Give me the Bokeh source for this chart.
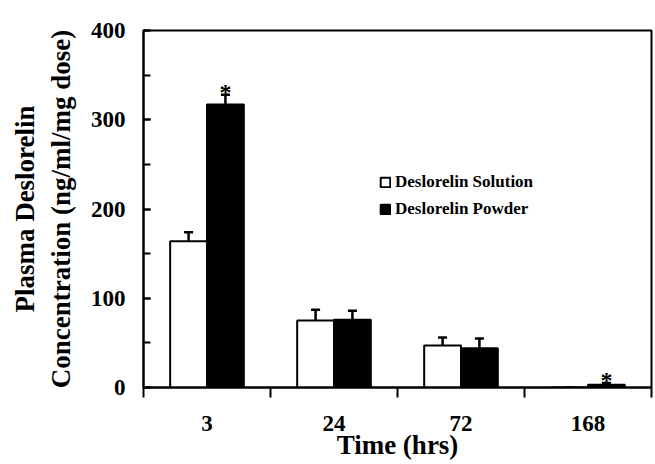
from bokeh.plotting import figure
from bokeh.models import (FixedTicker, SingleIntervalTicker, Whisker, ColumnDataSource,
                          Legend, LegendItem, TeeHead, Range1d)
from bokeh.core.properties import value
from bokeh.embed import file_html
from bokeh.resources import INLINE

times = ["3", "24", "72", "168"]
solution = [164, 75, 47, 0]
solution_err = [10, 12, 9, 0]
powder = [317, 76, 44, 3]
powder_err = [11, 10, 11, 2]
significant = [True, False, False, True]

FONT = "Liberation Serif"

p = figure(width=655, height=464, output_backend="svg", toolbar_location=None,
           x_range=Range1d(0, len(times)), y_range=Range1d(0, 400),
           min_border_left=143, min_border_right=4, min_border_top=30, min_border_bottom=77)
p.grid.visible = False
p.outline_line_color = "black"
p.outline_line_width = 2
p.background_fill_color = "white"
p.border_fill_color = "white"

bw = 0.29
idx = list(range(len(times)))
xs_sol = [i + 0.5 - bw / 2 for i in idx]
xs_pow = [i + 0.5 + bw / 2 for i in idx]

src_s = ColumnDataSource(dict(x=xs_sol, top=solution, up=[a + b for a, b in zip(solution, solution_err)]))
src_p = ColumnDataSource(dict(x=xs_pow, top=powder, up=[a + b for a, b in zip(powder, powder_err)]))

r_s = p.vbar(x="x", top="top", width=bw, source=src_s, fill_color="white", line_color="black", line_width=2)
r_p = p.vbar(x="x", top="top", width=bw, source=src_p, fill_color="black", line_color="black", line_width=2)

for src in (src_s, src_p):
    w = Whisker(base="x", lower="top", upper="up", source=src, line_color="black", line_width=2.5,
                upper_head=TeeHead(size=9, line_width=2.5, line_color="black"), lower_head=None)
    p.add_layout(w)

ast_x = [xs_pow[i] for i in idx if significant[i]]
ast_y = [powder[i] + powder_err[i] for i in idx if significant[i]]
p.text(x=ast_x, y=ast_y, text=["*"] * len(ast_x), text_font=value(FONT), text_font_size="24px",
       text_font_style="bold", text_align="center", text_baseline="bottom", y_offset=10, text_color="black")

BLACK = "black"

# x axis
xa = p.xaxis[0]
xa.ticker = FixedTicker(ticks=[i + 0.5 for i in idx], minor_ticks=list(range(len(times) + 1)))
xa.major_label_overrides = {i + 0.5: t for i, t in zip(idx, times)}
xa.major_tick_in = 0
xa.major_tick_out = 10
xa.major_tick_line_color = None
xa.minor_tick_in = 0
xa.minor_tick_out = 10
xa.minor_tick_line_width = 2
xa.minor_tick_line_color = BLACK
xa.axis_line_width = 2
xa.axis_line_color = BLACK
xa.major_label_standoff = 18
xa.major_label_text_font = FONT
xa.major_label_text_font_style = "bold"
xa.major_label_text_font_size = "23px"
xa.major_label_text_color = BLACK
xa.axis_label = "Time (hrs)"
xa.axis_label_text_font = FONT
xa.axis_label_text_font_style = "bold"
xa.axis_label_text_font_size = "27px"
xa.axis_label_text_color = BLACK
xa.axis_label_standoff = -4

ya = p.yaxis[0]
ya.ticker = SingleIntervalTicker(interval=100, num_minor_ticks=2)
ya.major_tick_in = 7
ya.major_tick_out = 0
ya.minor_tick_in = 7
ya.minor_tick_out = 0
ya.major_tick_line_width = 2
ya.minor_tick_line_width = 2
ya.major_tick_line_color = BLACK
ya.minor_tick_line_color = BLACK
ya.axis_line_width = 2
ya.axis_line_color = BLACK
ya.major_label_standoff = 18
ya.major_label_text_font = FONT
ya.major_label_text_font_style = "bold"
ya.major_label_text_font_size = "23px"
ya.major_label_text_color = BLACK
ya.axis_label = "Plasma Deslorelin\nConcentration (ng/ml/mg dose)"
ya.axis_label_text_font = FONT
ya.axis_label_text_font_style = "bold"
ya.axis_label_text_font_size = "27px"
ya.axis_label_text_color = BLACK
ya.axis_label_standoff = 12

legend = Legend(items=[LegendItem(label="Deslorelin Solution", renderers=[r_s]),
                       LegendItem(label="Deslorelin Powder", renderers=[r_p])],
                location=(236, 168), padding=0, margin=0, border_line_color=None,
                background_fill_alpha=0, glyph_width=12, glyph_height=12, label_height=18,
                spacing=7, label_standoff=4, label_text_color=BLACK,
                label_text_font=FONT, label_text_font_style="bold", label_text_font_size="17px")
p.add_layout(legend)

open("out.html", "w").write(file_html(p, INLINE))
